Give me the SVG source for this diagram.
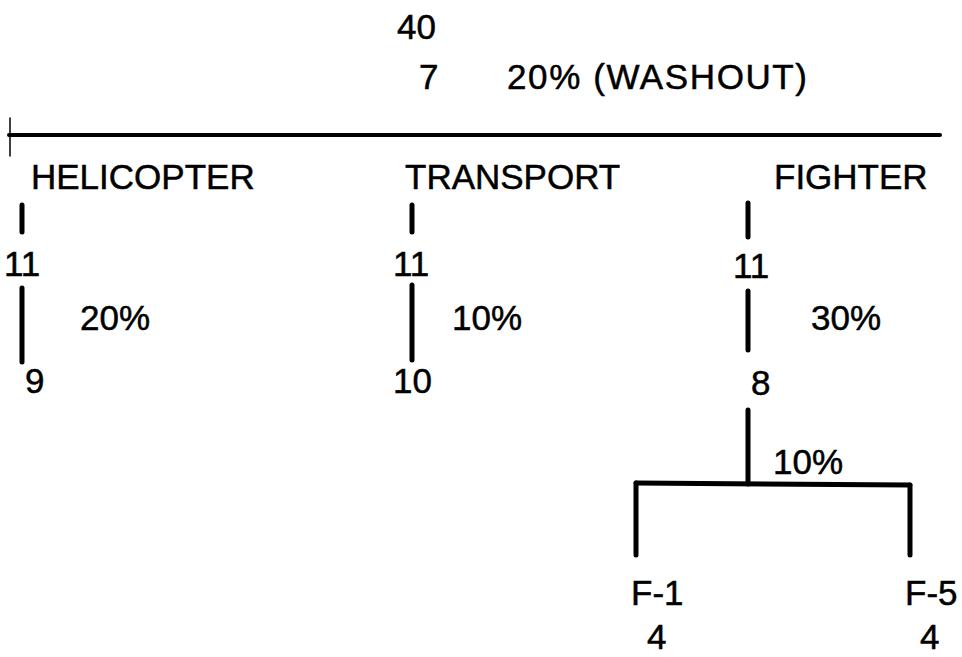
<svg xmlns="http://www.w3.org/2000/svg" width="962" height="657" viewBox="0 0 962 657">
<style>
text{font-family:"Liberation Sans",Arial,sans-serif;font-size:35px;fill:#000;stroke:#000;stroke-width:0.5}
.c{stroke:#000;stroke-linecap:round;fill:none}
.thick{stroke-width:5}
.main{stroke-width:4}
.thin{stroke-width:1.5}
</style>
<rect width="962" height="657" fill="#fff"/>
<g id="root">
<text x="397" y="39">40</text>
<text x="419" y="89">7</text>
<text x="507" y="89" textLength="300" lengthAdjust="spacing">20% (WASHOUT)</text>
</g>
<g id="connectors">
<line class="c main" x1="9" y1="135" x2="940" y2="135"/>
<line class="c thin" x1="10" y1="118" x2="10" y2="156"/>
<line class="c thick" x1="22" y1="205" x2="22" y2="232"/>
<line class="c thick" x1="412" y1="205" x2="412" y2="232"/>
<line class="c thick" x1="748" y1="203" x2="748" y2="237"/>
<line class="c thick" x1="22" y1="288" x2="22" y2="362"/>
<line class="c thick" x1="412" y1="285" x2="412" y2="360"/>
<line class="c thick" x1="748" y1="291" x2="748" y2="350"/>
<line class="c thick" x1="748" y1="410" x2="748" y2="484"/>
<line class="c thick" x1="636" y1="483" x2="910" y2="485"/>
<line class="c thick" x1="636" y1="483" x2="636" y2="555"/>
<line class="c thick" x1="910" y1="485" x2="910" y2="555"/>
</g>
<g id="helicopter">
<text x="31" y="189">HELICOPTER</text>
<text x="4" y="276">11</text>
<text x="80" y="330">20%</text>
<text x="25" y="393">9</text>
</g>
<g id="transport">
<text x="405" y="189">TRANSPORT</text>
<text x="393" y="276">11</text>
<text x="452" y="330">10%</text>
<text x="393" y="393">10</text>
</g>
<g id="fighter">
<text x="774" y="189">FIGHTER</text>
<text x="733" y="278">11</text>
<text x="811" y="330">30%</text>
<text x="751" y="395">8</text>
<text x="773" y="474">10%</text>
</g>
<g id="f1">
<text x="631" y="605">F-1</text>
<text x="647" y="649">4</text>
</g>
<g id="f5">
<text x="905" y="605">F-5</text>
<text x="920" y="649">4</text>
</g>
</svg>
